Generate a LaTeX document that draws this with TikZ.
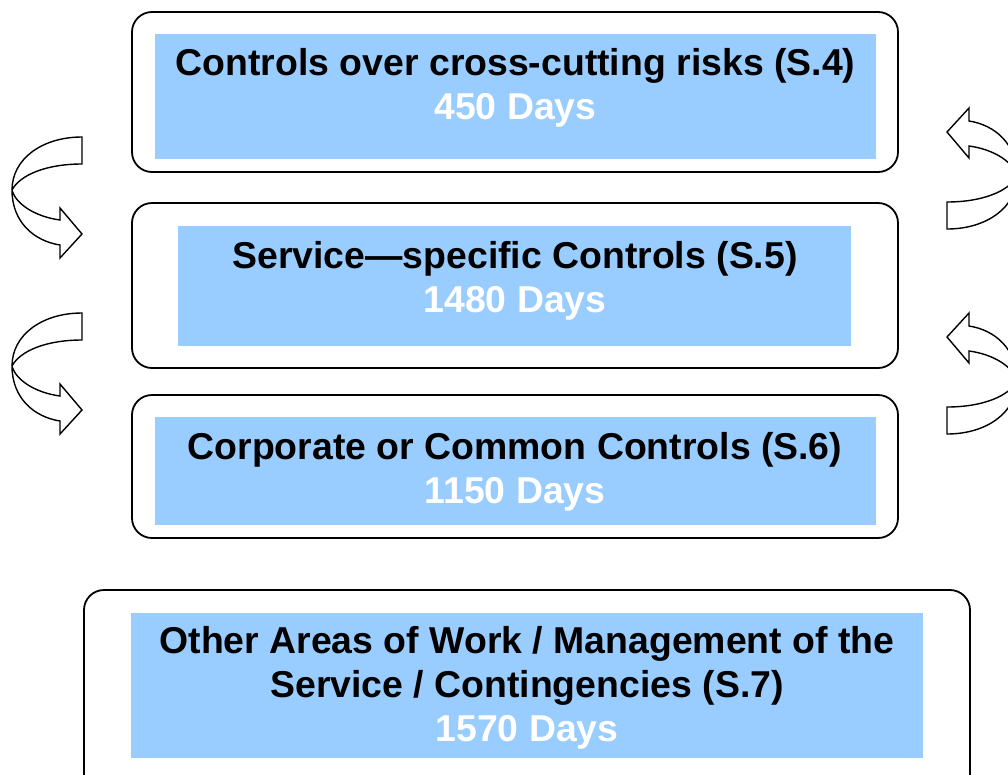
\documentclass[tikz,border=0pt]{standalone}
\usepackage{fontspec}
\setmainfont{Liberation Sans}
\definecolor{panelblue}{HTML}{99CCFF}
\begin{document}
\begin{tikzpicture}[x=1pt,y=-1pt,
  outerbox/.style={draw=black,line width=1.8pt,rounded corners=20pt,fill=white},
  bluebox/.style={fill=panelblue,draw=none},
  label/.style={font=\bfseries\fontsize{37.4}{44}\selectfont,align=center,inner sep=0pt},
  curvearrow/.style={draw=black,line width=1.4pt,fill=white,line join=miter}]
\useasboundingbox (0,0) rectangle (1008,774);
\clip (0,0) rectangle (1008,774);

% Section frames
\draw[outerbox] (132,12) rectangle (898,172);
\draw[outerbox] (132,203) rectangle (898,368);
\draw[outerbox] (132,395) rectangle (898,538);
\draw[outerbox] (84,590) rectangle (970,800);

% Blue panels
\node[bluebox,minimum width=721pt,minimum height=125pt] (p4) at (515.5,96.5) {};
\node[bluebox,minimum width=673pt,minimum height=120pt] (p5) at (514.5,286) {};
\node[bluebox,minimum width=721pt,minimum height=108pt] (p6) at (515.5,471) {};
\node[bluebox,minimum width=792pt,minimum height=145pt] (p7) at (527,685.5) {};

% Labels
\node[label] (t4) at (515.5,88) {Controls over cross-cutting risks (S.4)\\\textcolor{white}{450 Days}};
\node[label] (t5) at (515,281) {Service---specific Controls (S.5)\\\textcolor{white}{1480 Days}};
\node[label] (t6) at (515,472) {Corporate or Common Controls (S.6)\\\textcolor{white}{1150 Days}};
\node[label] (t7) at (527,688) {Other Areas of Work / Management of the\\Service / Contingencies (S.7)\\\textcolor{white}{1570 Days}};

% Curved block arrow, drawn with its tail's outer corner at the origin
\tikzset{bendarrow/.pic={
  \path[curvearrow]
    (0,0) .. controls (-40,0) and (-70,22) .. (-70,53)
    .. controls (-70,85) and (-48,104) .. (-22,108)
    -- (-22,121) -- (0,97) -- (-22,71) -- (-22,83)
    .. controls (-45,80) and (-66,68) .. (-70,53)
    .. controls (-62,38) and (-36,27) .. (0,27) -- cycle;
}}

\pic at (82,137) {bendarrow};
\pic at (82,313) {bendarrow};
\pic[rotate=180] at (947,229) {bendarrow};
\pic[rotate=180] at (947,434) {bendarrow};
\end{tikzpicture}
\end{document}
